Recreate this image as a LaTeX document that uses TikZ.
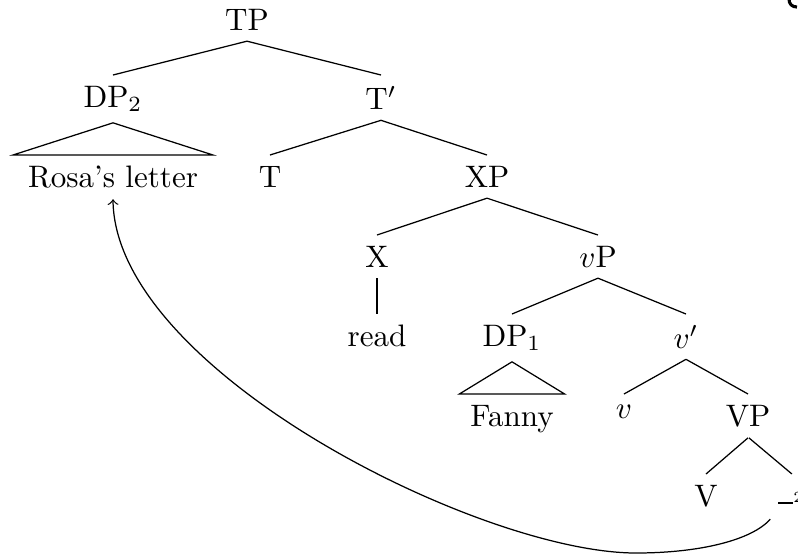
\documentclass[tikz,border=0pt]{standalone}
\usetikzlibrary{calc}
\begin{document}
\begin{tikzpicture}[x=0.3219pt,y=-0.3219pt,
  cat/.style={inner sep=0.3333em, anchor=north},
  branch/.style={line width=0.4pt},
  roof/.style={line width=0.4pt, line join=miter},
  move/.style={line width=0.4pt, ->}]
\useasboundingbox (0,0) rectangle (798,556);

% categories, level by level
\node[cat] (tp)    at (247,-2)  {TP};
\node[cat] (dp2)   at (113,75)  {DP$_2$};
\node[cat] (tbar)  at (381,75)  {T$'$};
\node[cat] (rosa)  at (113,155) {Rosa's letter};
\node[cat] (t)     at (270,155) {T};
\node[cat] (xp)    at (487,155) {XP};
\node[cat] (x)     at (377,235) {X};
\node[cat] (vp)    at (598,235) {$v$P};
\node[cat] (read)  at (377,314) {read};
\node[cat] (dp1)   at (512,314) {DP$_1$};
\node[cat] (vbar)  at (686,314) {$v'$};
\node[cat] (fanny) at (512,394) {Fanny};
\node[cat] (v)     at (624,394) {$v$};
\node[cat] (bigvp) at (748,394) {VP};
\node[cat] (bigv)  at (706,474) {V};
\node[cat, text height=6.83pt] (gap) at (791,474)
  {\rule[0.8pt]{4.8pt}{0.4pt}\raisebox{1.2pt}{\tiny 2}};

% branches
\draw[branch] (tp.south) -- (dp2.north);
\draw[branch] (tp.south) -- (tbar.north);
\draw[branch] (tbar.south) -- (t.north);
\draw[branch] (tbar.south) -- (xp.north);
\draw[branch] (xp.south) -- (x.north);
\draw[branch] (xp.south) -- (vp.north);
\draw[branch] (x.south) -- (read.north);
\draw[branch] (vp.south) -- (dp1.north);
\draw[branch] (vp.south) -- (vbar.north);
\draw[branch] (vbar.south) -- (v.north);
\draw[branch] (vbar.south) -- (bigvp.north);
\draw[branch] (bigvp.south) -- (bigv.north);
\draw[branch] ([xshift=0.3pt]bigvp.south) -- ([xshift=0.3pt]gap.north);

% roofs over unanalysed phrases
\draw[roof] (dp2.south) -- ([xshift=-1.3pt]rosa.north west)
  -- ([xshift=1.3pt]rosa.north east) -- cycle;
\draw[roof] (dp1.south) -- (fanny.north west) -- (fanny.north east) -- cycle;

% movement of the object
\draw[move] ($(gap.south west)+(3,2)$) .. controls (752,540) and (700,553) .. (636,553)
  .. controls (480,553) and (115,370) .. (rosa.south);

% edge of a glyph at the top corner
\draw[line width=1pt] (789,-1) .. controls (789,4) and (792,7) .. (797,7);
\end{tikzpicture}
\end{document}
